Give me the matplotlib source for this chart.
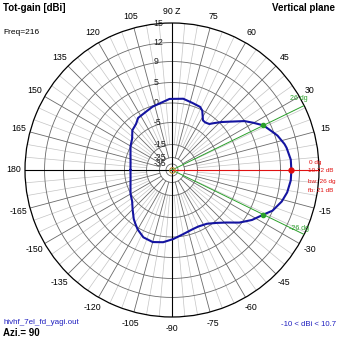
import numpy as np
import matplotlib
matplotlib.use('Agg')
import matplotlib.pyplot as plt

plt.rcParams['font.family'] = ['Liberation Sans', 'DejaVu Sans']

# ---- data (elevation angle in degrees, total gain in dBi) ----
theta_deg = [-180, -170, -160, -150, -142, -135, -128, -124, -120, -113, -105, -97, -89,
             -80, -71, -65, -57, -50, -44, -38, -32, -26, -22, -16, -11, -5, 0,
             5, 11, 13, 18, 20, 26, 30, 34, 40, 44, 48, 51, 55, 58, 63, 66, 73, 81,
             92, 100, 107, 113, 123, 128, 135, 142, 150, 160, 170, 180]
gain_dbi = [-7.7, -7.45, -6.5, -4.9, -4.2, -2.9, -1.25, -0.45, 0.4, 1.5, 1.85, 1.4, 0.5,
            -0.5, -1.1, -1.2, -0.75, 0.5, 2.1, 4.5, 6.3, 7.72, 9.0, 9.9, 10.4, 10.7, 10.72,
            10.7, 10.3, 10.1, 9.4, 9.0, 7.72, 6.3, 5.0, 2.0, 0.5, -1.0, -2.0, -2.3, -2.2, -0.1, 0.5, 0.75, 1.25,
            1.0, 0.2, -0.2, -0.75, -1.25, -2.2, -2.8, -4.2, -4.9, -6.5, -7.45, -7.7]
max_angle = 0
max_gain = 10.72
beam_angles = [26, -26]
beam_gain = max_gain - 3.0
ring_values = [-35, -25, -15, -5, 0, 5, 9, 12, 15]
ring_labels = ['-35', '-25', '-15', '-5', '0', '5', '9', '12', '15']
angle_ticks = [0, 15, 30, 45, 60, 75, 90, 105, 120, 135, 150, 165, 180,
               195, 210, 225, 240, 255, 270, 285, 300, 315, 330, 345]
angle_labels = ['', '15', '30', '45', '60', '75', '90 Z', '105', '120', '135', '150', '165', '180',
                '-165', '-150', '-135', '-120', '-105', '-90', '-75', '-60', '-45', '-30', '-15']
fine_angles = list(range(0, 360, 5))

# ---- ARRL-like radial scale (dB -> normalised radius) ----
scale_db = [-60, -35, -25, -15, -5, 0, 5, 9, 12, 15, 40]
scale_r = [0.0, 0.041, 0.085, 0.173, 0.323, 0.456, 0.595, 0.738, 0.867, 1.0, 2.0]

def fwd(x):
    return np.interp(np.asarray(x, dtype=float), scale_db, scale_r)

def inv(r):
    return np.interp(np.asarray(r, dtype=float), scale_r, scale_db)

W = H = 339
fig = plt.figure(figsize=(W / 100, H / 100), dpi=100)
fig.patch.set_facecolor('white')
cx, cy, R = 172, 170, 147
ax = fig.add_axes([(cx - R) / W, (H - cy - R) / H, 2 * R / W, 2 * R / H], projection='polar')
ax.set_yscale('function', functions=(fwd, inv))
ax.set_facecolor('white')
ax.grid(False)
ax.spines['polar'].set_color('black')
ax.spines['polar'].set_linewidth(0.9)

rmin, rmax = -60, 15
tt = np.linspace(0, 2 * np.pi, 721)
# rings
for v in ring_values[:-1]:
    ax.plot(tt, np.full_like(tt, v), color='#6a6a6a', lw=0.6, zorder=1)
# radial lines
for a in fine_angles:
    th = np.deg2rad(a)
    if a % 90 == 0:
        continue
    if a % 15 == 0:
        ax.plot([th, th], [-25, rmax], color='#6a6a6a', lw=0.6, zorder=1)
    else:
        ax.plot([th, th], [-15, rmax], color='#c4c4c4', lw=0.5, zorder=0.9)
# main axes
for a in [90, 180, 270]:
    th = np.deg2rad(a)
    ax.plot([th, th], [rmin, rmax], color='black', lw=0.8, zorder=2)

green = '#2aa02a'
red = '#e01010'
# beamwidth lines
for a in beam_angles:
    th = np.deg2rad(a)
    ax.plot([th, th], [rmin, rmax], color=green, lw=0.7, zorder=3)
    ax.annotate(f'{a} dg', xy=(th, rmax), xytext=(-3.5, 5 if a > 0 else 4.5), textcoords='offset points',
                ha='center', va='center', fontsize=5, color=green, zorder=4, annotation_clip=False)
# max direction line
ax.plot([np.deg2rad(max_angle)] * 2, [rmin, rmax], color=red, lw=0.8, zorder=3)

# pattern
ax.plot(np.deg2rad(theta_deg), gain_dbi, color='#1414a0', lw=1.5, zorder=5)
ax.plot(np.deg2rad(beam_angles), [beam_gain] * 2, 'o', color=green, ms=3, zorder=6)
ax.plot([np.deg2rad(max_angle)], [max_gain], 'o', color=red, ms=3.5, zorder=6)
ax.plot([0], [rmin], 'o', mfc='none', mec='#b08a30', ms=4, mew=0.8, zorder=6)

# limits (after plotting so autoscale does not change them)
ax.set_xlim(0, 2 * np.pi)
ax.set_ylim(rmin, rmax)

# theta tick labels
ax.set_xticks(np.deg2rad(angle_ticks))
ax.set_xticklabels(angle_labels)
ax.tick_params(axis='x', pad=1.5, labelsize=6.3, length=0, colors='black')
ax.set_yticks([])

# ring labels
for v, s in zip(ring_values, ring_labels):
    ax.annotate(s, xy=(np.pi / 2, v), xytext=(-13.5, 0), textcoords='offset points',
                ha='left', va='center', fontsize=6.3, color='#202020', zorder=3)

def ftext(x, y, s, **kw):
    fig.text(x / W, 1 - y / H, s, **kw)

ftext(3, 8, 'Tot-gain [dBi]', fontsize=7, fontweight='bold', va='center', ha='left')
ftext(335, 8, 'Vertical plane', fontsize=7, fontweight='bold', va='center', ha='right')
ftext(3, 32, 'Freq=216', fontsize=6, va='center', ha='left')
ftext(3, 322, 'hivhf_7el_fd_yagi.out', fontsize=5.8, va='center', ha='left', color='#2020c0')
ftext(3, 333, 'Azi.= 90', fontsize=7, fontweight='bold', va='center', ha='left')
ftext(336, 325, '-10 < dBi < 10.7', fontsize=5.6, va='center', ha='right', color='#2020c0')
ftext(309, 162, f'{max_angle} dg', fontsize=4.6, va='center', ha='left', color=red)
ftext(308, 171, f'{max_gain} dB', fontsize=4.6, va='center', ha='left', color=red)
ftext(308, 181, 'bw: 26 dg', fontsize=4.6, va='center', ha='left', color=red)
ftext(308, 190, 'fb: 21 dB', fontsize=4.6, va='center', ha='left', color=red)

fig.savefig('out.png', dpi=100, facecolor='white')
